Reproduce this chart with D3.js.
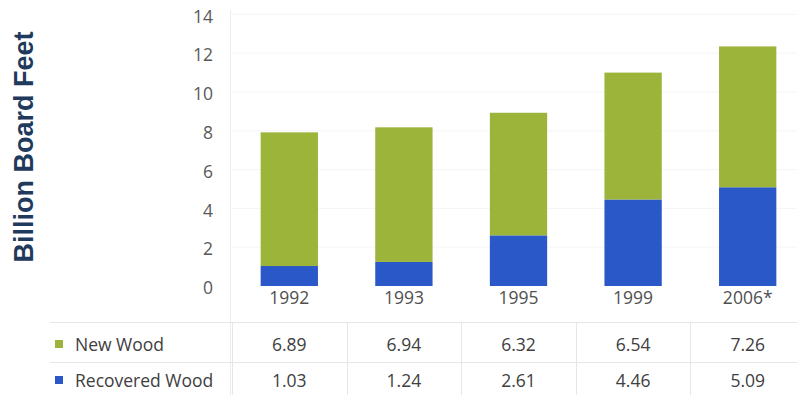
<!DOCTYPE html>
<html><head><meta charset="utf-8">
<script src="https://cdn.jsdelivr.net/npm/d3@7/dist/d3.min.js"></script>
<style>body{margin:0;background:#fff}svg{display:block}</style>
</head><body><svg id="c" width="797" height="395"></svg>
<script>
const categories = ["1992","1993","1995","1999","2006*"];
const newWood = [6.89, 6.94, 6.32, 6.54, 7.26];
const recoveredWood = [1.03, 1.24, 2.61, 4.46, 5.09];
const seriesNames = ["New Wood","Recovered Wood"];
const yTicks = [0,2,4,6,8,10,12,14];

const svg = d3.select("#c");
const font = "'Open Sans', sans-serif";
const green = "#9cb43a", blue = "#2b58c8";

const x = d3.scaleBand().domain(categories).range([232, 805]).paddingInner(0.5).paddingOuter(0.25);
const y = d3.scaleLinear().domain([0,14]).range([286, 14.4]);

// gridlines
svg.append("g").selectAll("line").data(yTicks.slice(1)).join("line")
  .attr("x1",232).attr("x2",797).attr("y1",d=>y(d)).attr("y2",d=>y(d))
  .attr("stroke","#f5f5f5").attr("stroke-width",1);

// left axis line
svg.append("line").attr("x1",230.5).attr("x2",230.5).attr("y1",10).attr("y2",395)
  .attr("stroke","#ececec");

const data = categories.map((c,i)=>({cat:c, rec:recoveredWood[i], nw:newWood[i]}));
const stack = d3.stack().keys(["rec","nw"])(data);
const colors = {rec:blue, nw:green};
svg.append("g").selectAll("g").data(stack).join("g")
  .attr("fill",d=>colors[d.key])
  .selectAll("rect").data(d=>d).join("rect")
  .attr("x",d=>x(d.data.cat)).attr("width",x.bandwidth())
  .attr("y",d=>y(d[1])).attr("height",d=>y(d[0])-y(d[1]));

// y tick labels
const yAxis = d3.axisLeft(y).tickValues(yTicks).tickSize(0).tickPadding(0);
const ga = svg.append("g").attr("transform","translate(213,2)").call(yAxis);
ga.select(".domain").remove();
ga.selectAll("text").attr("font-family",font).attr("font-size",17.5).attr("fill","#595959");

// x category labels
const xa = d3.axisBottom(x).tickSize(0).tickPadding(0);
const gx = svg.append("g").attr("transform","translate(0,292)").call(xa);
gx.select(".domain").remove();
gx.selectAll("text").attr("font-family",font).attr("font-size",17.5).attr("fill","#505050").attr("dy","0.71em");

// y title
svg.append("text").attr("transform","translate(33,147) rotate(-90)")
  .attr("text-anchor","middle").attr("font-family","'Liberation Sans', Arial, sans-serif")
  .attr("font-weight","bold").attr("font-size",27).attr("fill","#1f3a5c")
  .text("Billion Board Feet");

// table
const rowsY = [345, 381];
const step = x.step();
const bounds = categories.map(c=>x(c) - (step - x.bandwidth())/2);
svg.append("line").attr("x1",50).attr("x2",797).attr("y1",322.5).attr("y2",322.5).attr("stroke","#e6e6e6");
svg.append("line").attr("x1",50).attr("x2",797).attr("y1",362.5).attr("y2",362.5).attr("stroke","#e6e6e6");
svg.append("g").selectAll("line").data(bounds).join("line")
  .attr("x1",d=>Math.round(d)+0.5).attr("x2",d=>Math.round(d)+0.5).attr("y1",322).attr("y2",395)
  .attr("stroke","#e6e6e6");

const rowVals = [newWood, recoveredWood];
const rowColors = [green, blue];
rowVals.forEach((vals,r)=>{
  svg.append("rect").attr("x",55).attr("y",rowsY[r]-5).attr("width",8).attr("height",8).attr("fill",rowColors[r]);
  svg.append("text").attr("x",75).attr("y",rowsY[r]).attr("dy","0.35em")
    .attr("font-family",font).attr("font-size",17.5).attr("fill","#404040").text(seriesNames[r]);
  svg.append("g").selectAll("text").data(vals).join("text")
    .attr("x",(d,i)=>x(categories[i])+x.bandwidth()/2).attr("y",rowsY[r]).attr("dy","0.35em")
    .attr("text-anchor","middle").attr("font-family",font).attr("font-size",17.5).attr("fill","#404040")
    .text(d=>d.toFixed(2));
});
</script></body></html>
